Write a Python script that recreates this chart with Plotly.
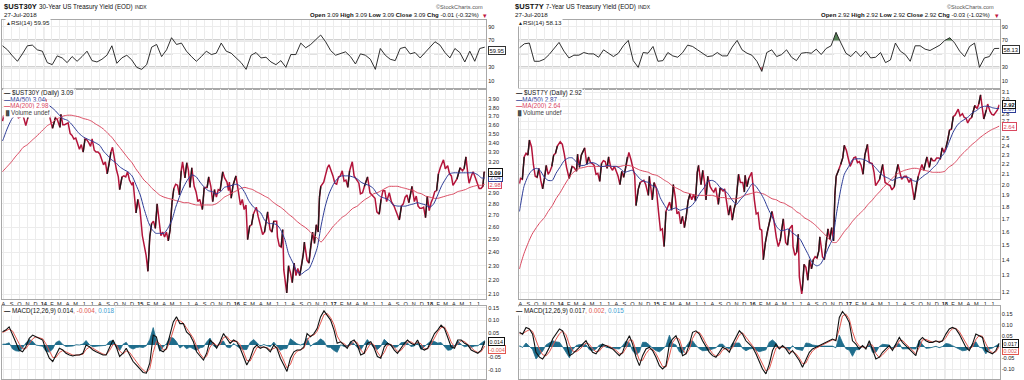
import plotly.graph_objects as go
import pandas as pd
import math

W, H = 1024, 380
FONT = "Liberation Sans, Arial, sans-serif"

# ---------------- price data (weekly-ish closes) ----------------
dates_2013 = ["2013-07-29","2013-08-02","2013-08-09","2013-08-16","2013-08-23","2013-08-30",
              "2013-09-05","2013-09-13","2013-09-20","2013-09-27","2013-10-04","2013-10-11",
              "2013-10-18","2013-10-25","2013-11-01","2013-11-08","2013-11-15","2013-11-22",
              "2013-11-29","2013-12-06","2013-12-13","2013-12-20","2013-12-31"]
dates_2014 = ["2014-01-08","2014-01-15","2014-01-24","2014-02-03","2014-02-14","2014-02-21",
              "2014-03-03","2014-03-07","2014-03-14","2014-03-21","2014-04-03","2014-04-11",
              "2014-04-18","2014-04-25","2014-05-02","2014-05-09","2014-05-16","2014-05-23",
              "2014-05-30","2014-06-06","2014-06-13","2014-06-20","2014-06-27","2014-07-03",
              "2014-07-11","2014-07-18","2014-07-25","2014-08-01","2014-08-08","2014-08-15",
              "2014-08-22","2014-08-29","2014-09-05","2014-09-12","2014-09-18","2014-09-26",
              "2014-10-03","2014-10-10","2014-10-15","2014-10-24","2014-10-31","2014-11-07",
              "2014-11-14","2014-11-21","2014-12-01","2014-12-05","2014-12-12","2014-12-16",
              "2014-12-23","2014-12-31"]
dates_2015 = ["2015-01-09","2015-01-16","2015-01-23","2015-01-30","2015-02-06","2015-02-13",
              "2015-02-20","2015-02-27","2015-03-06","2015-03-13","2015-03-20","2015-03-27",
              "2015-04-03","2015-04-10","2015-04-17","2015-04-24","2015-05-01","2015-05-08",
              "2015-05-15","2015-05-22","2015-05-29","2015-06-05","2015-06-10","2015-06-19",
              "2015-06-26","2015-07-02","2015-07-08","2015-07-15","2015-07-24","2015-07-31",
              "2015-08-07","2015-08-14","2015-08-24","2015-08-31","2015-09-11","2015-09-17",
              "2015-09-25","2015-10-02","2015-10-09","2015-10-16","2015-10-23","2015-10-30",
              "2015-11-09","2015-11-16","2015-11-25","2015-12-01","2015-12-04","2015-12-11",
              "2015-12-18","2015-12-29"]
dates_2016 = ["2016-01-08","2016-01-15","2016-01-22","2016-01-29","2016-02-05","2016-02-11",
              "2016-02-19","2016-02-26","2016-03-04","2016-03-15","2016-03-22","2016-04-01",
              "2016-04-08","2016-04-15","2016-04-27","2016-05-06","2016-05-13","2016-05-20",
              "2016-05-31","2016-06-03","2016-06-10","2016-06-17","2016-06-23","2016-06-27",
              "2016-07-06","2016-07-08","2016-07-15","2016-07-22","2016-07-29","2016-08-05",
              "2016-08-12","2016-08-19","2016-08-26","2016-09-02","2016-09-09","2016-09-13",
              "2016-09-23","2016-09-30","2016-10-07","2016-10-14","2016-10-21","2016-10-28",
              "2016-11-04","2016-11-09","2016-11-14","2016-11-25","2016-12-01","2016-12-09",
              "2016-12-15","2016-12-23","2016-12-30"]
dates_2017 = ["2017-01-06","2017-01-13","2017-01-20","2017-01-27","2017-02-03","2017-02-10",
              "2017-02-17","2017-02-24","2017-03-03","2017-03-13","2017-03-20","2017-03-31",
              "2017-04-07","2017-04-13","2017-04-21","2017-04-28","2017-05-10","2017-05-19",
              "2017-05-31","2017-06-07","2017-06-14","2017-06-23","2017-06-30","2017-07-07",
              "2017-07-14","2017-07-21","2017-07-31","2017-08-08","2017-08-18","2017-08-25",
              "2017-09-07","2017-09-15","2017-09-22","2017-09-29","2017-10-06","2017-10-13",
              "2017-10-25","2017-11-03","2017-11-10","2017-11-17","2017-11-24","2017-12-01",
              "2017-12-08","2017-12-15","2017-12-22","2017-12-29"]
dates_2018 = ["2018-01-05","2018-01-12","2018-01-19","2018-01-26","2018-02-02","2018-02-09",
              "2018-02-21","2018-02-28","2018-03-09","2018-03-16","2018-03-23","2018-03-29",
              "2018-04-06","2018-04-13","2018-04-25","2018-05-04","2018-05-10","2018-05-17",
              "2018-05-25","2018-05-29","2018-06-08","2018-06-13","2018-06-22","2018-06-29",
              "2018-07-06","2018-07-13","2018-07-20","2018-07-25","2018-07-27"]
price_dates = dates_2013 + dates_2014 + dates_2015 + dates_2016 + dates_2017 + dates_2018

ust30_close = [
    # 2013
    3.64,3.70,3.70,3.82,3.79,3.70,3.88,3.84,3.72,3.68,3.69,3.74,3.67,3.59,3.67,3.81,3.79,3.78,3.82,3.89,3.86,3.87,3.94,
    # 2014
    3.90,3.80,3.68,3.56,3.68,3.66,3.57,3.72,3.60,3.60,3.62,3.50,3.48,3.44,3.45,3.40,3.33,3.38,3.30,3.44,
    3.43,3.40,3.36,3.44,3.32,3.30,3.30,3.28,3.21,3.17,3.20,3.08,3.18,3.30,3.35,3.20,3.12,3.05,2.93,3.05,
    3.06,3.05,3.10,3.02,2.97,3.00,2.80,2.72,2.84,2.75,
    # 2015
    2.53,2.44,2.38,2.26,2.52,2.63,2.65,2.59,2.80,2.66,2.53,2.56,2.52,2.56,2.49,2.58,2.81,2.94,2.98,2.97,
    2.88,3.11,3.20,3.04,3.19,3.12,2.95,3.14,2.96,2.91,2.82,2.84,2.75,2.95,2.95,3.05,2.96,2.82,2.93,2.86,
    2.93,2.92,3.10,3.04,3.00,2.92,3.00,2.85,2.97,3.06,
    # 2016
    2.91,2.79,2.84,2.75,2.79,2.50,2.61,2.62,2.71,2.77,2.69,2.61,2.54,2.56,2.73,2.58,2.56,2.65,2.65,2.52,
    2.45,2.44,2.58,2.27,2.15,2.11,2.30,2.25,2.18,2.32,2.23,2.28,2.23,2.30,2.39,2.48,2.34,2.32,2.45,2.56,
    2.47,2.62,2.56,2.86,2.96,3.00,3.06,3.14,3.17,3.12,3.06,
    # 2017
    2.99,2.98,3.05,3.06,3.11,3.01,3.02,2.95,3.11,3.20,3.06,3.02,2.99,2.89,2.90,2.96,3.05,2.90,2.87,2.85,
    2.73,2.71,2.84,2.92,2.92,2.82,2.90,2.82,2.78,2.73,2.66,2.78,2.80,2.86,2.88,2.81,2.96,2.82,2.87,2.78,
    2.76,2.76,2.77,2.68,2.87,2.74,
    # 2018
    2.81,2.85,2.91,2.92,3.08,3.14,3.22,3.13,3.16,3.08,3.06,2.97,3.00,3.03,3.14,3.11,3.13,3.25,3.06,2.99,
    3.07,3.10,3.04,2.99,2.94,2.94,2.96,3.10,3.09]

ust7_close = [
    # 2013
    2.01,2.06,2.05,2.28,2.32,2.30,2.47,2.39,2.20,2.08,2.07,2.16,2.04,1.96,2.06,2.19,2.10,2.13,2.18,2.30,2.32,2.40,2.45,
    # 2014
    2.42,2.32,2.17,2.06,2.18,2.17,2.13,2.31,2.17,2.30,2.38,2.20,2.28,2.22,2.21,2.19,2.10,2.11,2.03,2.21,
    2.24,2.23,2.16,2.28,2.17,2.14,2.18,2.13,2.08,2.00,2.13,2.07,2.16,2.28,2.33,2.25,2.16,2.09,1.81,1.96,
    2.02,2.03,2.04,2.00,1.90,2.08,1.90,1.86,2.02,1.97,
    # 2015
    1.75,1.61,1.62,1.49,1.76,1.81,1.84,1.77,2.00,1.89,1.74,1.76,1.66,1.72,1.63,1.72,1.85,1.91,1.86,1.91,
    1.85,2.12,2.19,2.00,2.14,2.03,1.86,2.08,1.98,1.95,1.93,1.97,1.82,1.97,1.94,1.96,1.84,1.73,1.81,1.69,
    1.78,1.84,2.10,2.02,2.02,1.93,2.09,1.98,2.06,2.12,
    # 2016
    1.86,1.74,1.75,1.62,1.61,1.40,1.52,1.60,1.66,1.76,1.69,1.55,1.49,1.53,1.70,1.52,1.50,1.62,1.65,1.49,
    1.43,1.45,1.58,1.29,1.19,1.21,1.37,1.35,1.27,1.40,1.34,1.40,1.42,1.41,1.46,1.56,1.42,1.40,1.52,1.62,
    1.54,1.63,1.53,1.90,2.08,2.15,2.20,2.27,2.41,2.35,2.25,
    # 2017
    2.18,2.22,2.27,2.28,2.22,2.23,2.19,2.10,2.30,2.42,2.22,2.21,2.12,1.99,2.03,2.05,2.20,2.02,2.00,1.99,
    1.95,1.98,2.11,2.20,2.12,2.05,2.08,2.08,2.02,2.06,1.86,2.00,2.08,2.14,2.20,2.14,2.28,2.17,2.27,2.24,
    2.24,2.27,2.27,2.26,2.38,2.33,
    # 2018
    2.38,2.47,2.59,2.60,2.76,2.78,2.86,2.77,2.80,2.75,2.74,2.68,2.73,2.75,2.91,2.87,2.93,3.06,2.87,2.73,
    2.85,2.93,2.83,2.79,2.78,2.82,2.85,2.90,2.92]

# ---------------- moving averages (semi-monthly readings) ----------------
ma_dates = ["2013-07-29"]
for _y in range(2013, 2019):
    for _m in range(1, 13):
        if (_y == 2013 and _m < 8) or (_y == 2018 and _m > 7):
            continue
        ma_dates += [f"{_y}-{_m:02d}-01", f"{_y}-{_m:02d}-15"]
ma_dates.append("2018-07-27")

ust30_ma50 = [
    3.42,3.44,3.55,3.66,3.71,3.74,3.75,3.72,3.71,3.75,3.80,
    3.84,3.84,3.80,3.76,3.71,3.67,3.65,3.61,3.55,3.50,3.46,3.44,3.42,3.40,3.37,3.31,3.26,3.22,3.19,3.15,3.12,3.10,3.06,2.98,
    2.88,2.76,2.64,2.58,2.55,2.55,2.55,2.59,2.66,2.77,2.88,2.96,3.03,3.07,3.05,3.00,2.95,2.92,2.91,2.89,2.91,2.95,2.96,2.97,
    2.98,2.96,2.90,2.83,2.78,2.75,2.72,2.66,2.63,2.63,2.62,2.58,2.50,2.39,2.32,2.26,2.24,2.26,2.28,2.34,2.44,2.61,2.78,2.89,
    2.98,3.03,3.06,3.06,3.06,3.05,3.03,3.00,2.98,2.97,2.94,2.89,2.86,2.85,2.83,2.79,2.78,2.78,2.78,2.79,2.80,2.81,2.80,2.79,
    2.77,2.80,2.89,2.97,3.03,3.08,3.09,3.09,3.09,3.09,3.09,3.09,3.07,3.04,3.04]
ust30_ma200 = [
    3.10,3.11,3.15,3.20,3.25,3.30,3.35,3.38,3.42,3.46,3.50,
    3.55,3.59,3.62,3.66,3.68,3.70,3.71,3.71,3.70,3.69,3.67,3.66,3.64,3.61,3.58,3.55,3.50,3.46,3.40,3.35,3.29,3.24,3.19,3.13,
    3.07,3.02,2.98,2.94,2.91,2.88,2.86,2.85,2.84,2.83,2.82,2.81,2.81,2.80,2.79,2.79,2.79,2.79,2.79,2.80,2.83,2.86,2.88,2.90,
    2.92,2.94,2.95,2.94,2.93,2.91,2.89,2.87,2.85,2.82,2.79,2.77,2.74,2.71,2.68,2.65,2.62,2.60,2.57,2.54,2.51,2.48,2.52,2.56,
    2.61,2.64,2.68,2.70,2.73,2.76,2.78,2.81,2.84,2.86,2.89,2.90,2.92,2.94,2.96,2.96,2.96,2.95,2.94,2.93,2.92,2.90,2.89,2.87,
    2.86,2.85,2.85,2.86,2.87,2.88,2.89,2.91,2.92,2.93,2.95,2.96,2.97,2.97,2.98]
ust7_ma50 = [
    1.76,1.80,1.98,2.09,2.14,2.16,2.14,2.07,2.04,2.04,2.11,
    2.18,2.24,2.27,2.27,2.23,2.19,2.19,2.21,2.22,2.21,2.18,2.18,2.19,2.18,2.18,2.16,2.12,2.13,2.14,2.10,2.05,2.03,2.02,1.99,
    1.97,1.88,1.81,1.77,1.78,1.79,1.77,1.78,1.79,1.81,1.86,1.92,1.97,2.03,2.04,2.02,1.97,1.95,1.91,1.86,1.82,1.86,1.90,1.95,
    2.01,1.98,1.92,1.86,1.78,1.72,1.64,1.61,1.61,1.62,1.59,1.57,1.54,1.49,1.43,1.38,1.36,1.37,1.42,1.48,1.55,1.74,1.95,2.10,
    2.18,2.25,2.26,2.26,2.25,2.23,2.20,2.16,2.11,2.08,2.06,2.04,2.06,2.07,2.07,2.07,2.04,2.03,2.06,2.09,2.12,2.16,2.20,2.27,
    2.33,2.43,2.56,2.64,2.69,2.72,2.76,2.81,2.84,2.88,2.90,2.90,2.88,2.87,2.87]
ust7_ma200 = [
    1.34,1.36,1.44,1.52,1.58,1.63,1.67,1.71,1.76,1.81,1.87,
    1.93,1.99,2.06,2.11,2.14,2.16,2.17,2.18,2.18,2.18,2.18,2.18,2.18,2.18,2.18,2.18,2.19,2.19,2.18,2.16,2.14,2.13,2.12,2.10,
    2.09,2.07,2.04,2.02,1.99,1.97,1.95,1.93,1.92,1.91,1.90,1.90,1.90,1.90,1.90,1.89,1.88,1.88,1.87,1.87,1.87,1.88,1.90,1.91,
    1.92,1.93,1.92,1.91,1.89,1.87,1.86,1.84,1.83,1.81,1.79,1.76,1.74,1.71,1.69,1.67,1.64,1.61,1.58,1.55,1.52,1.52,1.56,1.60,
    1.64,1.68,1.72,1.75,1.78,1.82,1.86,1.90,1.94,1.98,2.02,2.06,2.10,2.12,2.14,2.15,2.16,2.16,2.15,2.14,2.13,2.12,2.12,2.12,
    2.13,2.17,2.20,2.24,2.29,2.33,2.38,2.42,2.46,2.50,2.54,2.57,2.60,2.62,2.64]

# ---------------- RSI(14) readings ----------------
ust30_rsi = [62,56,47,39,50,62,63,56,54,37, 34,47,44,37,46,39,46,54,40,38,
             42,48,62,36,44,48,41,30,27,34, 60,64,46,56,74,64,66,54,46,39,
             46,54,49,51,66,54,51,44,37,27, 48,52,44,45,38,34,40,30,49,49,
             66,59,64,71,78,68,55,48,50,53, 46,35,50,48,42,27,58,48,42,40,
             58,60,50,52,44,52,60,68,63,52, 44,58,52,38,54,39,58,59.95]
ust7_rsi = [59,65,66,39,39,42,49,58,67,54, 44,48,48,52,50,50,45,56,51,46,
            51,62,70,40,30,52,51,61,39,40, 52,47,45,52,63,61,56,51,46,47,
            52,47,47,60,70,56,51,48,39,24, 52,56,46,49,56,45,40,51,52,51,
            57,49,58,62,82,66,51,46,54,46, 54,44,45,52,37,41,66,54,49,39,
            62,62,57,55,59,63,70,74,66,54, 46,61,66,30,44,46,58,58.13]

# ---------------- MACD(12,26,9) readings ----------------
ust30_macd = [0.053,0.060,0.073,0.040,0.007,-0.020,-0.027,-0.007,0.027,0.040,
              0.033,0.027,0.020,-0.020,-0.053,-0.066,-0.040,-0.013,-0.020,-0.033,
              -0.040,-0.044,-0.040,-0.040,-0.033,0.000,-0.007,-0.020,-0.027,-0.033,
              -0.040,-0.040,-0.007,0.020,-0.007,-0.046,-0.033,-0.013,-0.040,-0.066,
              -0.080,-0.093,-0.110,-0.113,-0.073,0.040,0.033,-0.020,-0.027,-0.013,
              0.046,0.093,0.113,0.086,0.086,0.053,0.040,0.013,-0.027,-0.046,
              -0.060,-0.033,0.020,0.007,-0.013,0.013,0.046,0.027,0.007,0.020,
              0.013,-0.013,-0.046,-0.080,-0.053,-0.013,0.000,-0.013,-0.007,-0.013,
              -0.027,0.000,-0.013,-0.053,-0.080,-0.106,-0.053,-0.027,-0.020,-0.020,
              -0.007,0.046,0.033,0.046,0.066,0.113,0.137,0.119,0.100,0.060,
              0.007,0.013,0.000,-0.013,0.013,0.020,0.000,-0.040,-0.033,0.007,
              0.013,-0.013,-0.046,-0.053,-0.007,0.007,0.000,-0.020,-0.033,-0.013,
              0.007,0.020,0.007,0.000,0.020,-0.013,-0.020,-0.013,0.020,0.046,
              0.060,0.080,0.066,0.027,-0.007,-0.013,0.020,0.020,0.007,0.000,
              -0.020,-0.027,-0.033,-0.020,0.014]
ust30_signal = [0.050,0.056,0.064,0.056,0.030,0.005,-0.015,-0.015,0.005,0.025,
                0.033,0.030,0.025,0.005,-0.025,-0.050,-0.050,-0.030,-0.022,-0.027,
                -0.035,-0.040,-0.041,-0.040,-0.037,-0.018,-0.008,-0.013,-0.022,-0.029,
                -0.036,-0.039,-0.022,0.002,0.002,-0.024,-0.036,-0.024,-0.030,-0.050,
                -0.070,-0.085,-0.100,-0.110,-0.095,-0.030,0.015,0.005,-0.020,-0.018,
                0.015,0.065,0.100,0.098,0.088,0.068,0.048,0.027,-0.005,-0.035,
                -0.052,-0.045,-0.008,0.010,-0.002,0.002,0.030,0.035,0.018,0.014,
                0.016,0.001,-0.028,-0.062,-0.064,-0.035,-0.010,-0.008,-0.009,-0.010,
                -0.020,-0.012,-0.008,-0.032,-0.065,-0.092,-0.078,-0.042,-0.025,-0.020,
                -0.013,0.018,0.038,0.040,0.055,0.088,0.122,0.127,0.110,0.082,
                0.036,0.012,0.006,-0.006,0.000,0.015,0.010,-0.020,-0.035,-0.015,
                0.008,0.000,-0.028,-0.048,-0.030,-0.002,0.003,-0.010,-0.026,-0.022,
                -0.004,0.012,0.013,0.004,0.010,0.005,-0.015,-0.016,0.003,0.032,
                0.052,0.070,0.072,0.048,0.012,-0.008,0.003,0.018,0.014,0.004,
                -0.010,-0.023,-0.030,-0.026,-0.004]
ust7_macd = [0.066,0.058,0.088,0.081,0.058,-0.024,-0.046,-0.054,-0.031,-0.001,
             0.036,0.058,0.081,0.073,0.028,-0.039,-0.031,-0.016,-0.001,0.013,
             0.028,-0.001,-0.024,-0.031,-0.009,0.013,0.006,-0.001,-0.009,-0.024,
             -0.039,-0.024,0.021,0.051,0.013,-0.046,-0.084,-0.039,-0.009,-0.001,
             -0.016,-0.046,-0.084,-0.099,-0.084,0.013,0.036,0.051,0.013,-0.039,
             -0.031,0.013,0.066,0.073,0.058,0.028,-0.001,-0.024,-0.039,-0.046,
             -0.024,-0.001,-0.009,-0.024,0.013,0.043,0.073,0.058,0.028,0.013,
             -0.001,-0.031,-0.069,-0.099,-0.121,-0.076,-0.016,0.013,-0.009,0.006,
             -0.009,-0.031,-0.016,-0.039,-0.061,-0.091,-0.054,-0.024,-0.009,-0.001,
             0.006,0.013,0.021,0.028,0.036,0.028,0.133,0.160,0.140,0.110,
             0.028,0.013,-0.009,0.006,-0.009,0.028,-0.016,-0.054,-0.046,-0.024,
             -0.009,0.006,-0.016,0.013,0.043,0.021,0.006,-0.009,-0.024,-0.039,
             0.028,0.043,0.028,0.021,0.021,0.028,0.021,0.028,0.058,0.081,
             0.088,0.081,0.058,0.028,-0.001,-0.016,0.013,0.058,0.051,0.043,
             -0.016,-0.024,-0.031,-0.016,0.017]
ust7_signal = [0.060,0.060,0.070,0.078,0.070,0.030,-0.010,-0.035,-0.040,-0.022,
               0.008,0.035,0.060,0.072,0.055,0.010,-0.018,-0.022,-0.012,0.004,
               0.018,0.012,-0.008,-0.022,-0.018,0.000,0.007,0.003,-0.004,-0.015,
               -0.030,-0.030,-0.005,0.032,0.030,-0.012,-0.060,-0.060,-0.030,-0.010,
               -0.010,-0.030,-0.062,-0.088,-0.090,-0.040,0.020,0.042,0.035,-0.010,
               -0.032,-0.010,0.038,0.066,0.066,0.045,0.015,-0.010,-0.030,-0.042,
               -0.036,-0.014,-0.006,-0.016,-0.004,0.026,0.055,0.064,0.045,0.022,
               0.006,-0.016,-0.048,-0.082,-0.108,-0.098,-0.048,-0.005,0.000,0.000,
               -0.002,-0.018,-0.022,-0.030,-0.050,-0.075,-0.072,-0.040,-0.018,-0.006,
               0.002,0.009,0.016,0.024,0.032,0.032,0.080,0.140,0.148,0.125,
               0.070,0.025,0.003,0.000,-0.002,0.012,0.008,-0.030,-0.048,-0.036,
               -0.018,-0.003,-0.008,0.000,0.028,0.030,0.014,-0.002,-0.016,-0.030,
               -0.002,0.032,0.034,0.026,0.022,0.025,0.024,0.026,0.042,0.068,
               0.082,0.084,0.070,0.045,0.014,-0.008,0.000,0.034,0.052,0.048,
               0.015,-0.015,-0.026,-0.022,0.002]

assert len(ust30_close) == len(price_dates) == len(ust7_close)
assert len(ma_dates) == len(ust30_ma50) == len(ust30_ma200) == len(ust7_ma50) == len(ust7_ma200)
assert len(ust30_macd) == len(ust30_signal) == len(ust7_macd) == len(ust7_signal)

rsi_dates = list(pd.date_range("2013-07-29", "2018-07-27", periods=len(ust30_rsi)))
macd_dates = [d.strftime("%Y-%m-%d") for d in pd.date_range("2013-07-29", "2018-07-27", periods=len(ust30_macd))]

month_starts = pd.date_range("2013-08-01", "2018-07-01", freq="MS")
month_vals = [d.strftime("%Y-%m-%d") for d in month_starts]
letters = "JFMAMJJASOND"
month_text = [f"<b>{d.year % 100:02d}</b>" if d.month == 1 else letters[d.month - 1] for d in month_starts]
year_vals = [d.strftime("%Y-%m-%d") for d in month_starts if d.month == 1]

# ---------------- styling ----------------
PRICE_RED = "#b3143a"
MA50_BLUE = "#2d3c96"
MA200_RED = "#d9485f"
SIG_RED = "#e2574f"
HIST_BLUE = "#1f6d8c"
GRID = "#ececec"
YEARGRID = "#c4c4c4"
BORDER = "#a8a8a8"
TXT = "#222222"

Y_RSI = [1 - 87.7 / H, 1 - 18.3 / H]
Y_PRICE = [1 - 298.3 / H, 1 - 87.7 / H]
Y_MACD = [1 - 378.7 / H, 1 - 306.0 / H]

fig = go.Figure()
layout = dict(width=W, height=H, margin=dict(l=0, r=0, t=0, b=0), paper_bgcolor="white",
              plot_bgcolor="white", showlegend=False, bargap=0, font=dict(family=FONT, size=6, color=TXT))
shapes, annotations = [], []


def ann(xpx, ypx, text, size=6.3, color=TXT, xanchor="left", bg=None, border=None, xref="paper", yref="paper", y=None):
    x = xpx / W if xref == "paper" else xpx
    yy = (1 - ypx / H) if y is None else y
    d = dict(x=x, y=yy, xref=xref, yref=yref, text=text, showarrow=False, xanchor=xanchor, yanchor="middle",
             font=dict(size=size, color=color, family=FONT))
    if bg:
        d["bgcolor"] = bg
        d["borderpad"] = 0
    if border:
        d["bordercolor"] = border
        d["borderwidth"] = 1
        d["borderpad"] = 0.5
    annotations.append(d)


def zone_polygons(dates, vals, thr, above):
    """Closed polygons between the RSI line and a threshold, only where it is exceeded."""
    polys = []
    cur = None
    for i in range(len(vals)):
        v = vals[i]
        out = v > thr if above else v < thr
        if out and cur is None:
            if i > 0:
                v0, t0 = vals[i - 1], dates[i - 1]
                f = (thr - v0) / (v - v0)
                cur = [(t0 + (dates[i] - t0) * f, thr)]
            else:
                cur = [(dates[i], thr)]
            cur.append((dates[i], v))
        elif out:
            cur.append((dates[i], v))
        elif cur is not None:
            v0, t0 = vals[i - 1], dates[i - 1]
            f = (thr - v0) / (v - v0)
            cur.append((t0 + (dates[i] - t0) * f, thr))
            polys.append(cur)
            cur = None
    xs, ys = [], []
    for p in polys:
        xs += [q[0] for q in p] + [p[0][0], None]
        ys += [q[1] for q in p] + [p[0][1], None]
    return xs, ys


def build(sfx, xdom, xrange, close, ma50, ma200, rsi, macd, signal,
          y_rng, y_ticks, y_hide, y_fmt, macd_rng, info):
    xa, xb, xc = sfx
    ya, yb, yc = ["y" + s[1:] for s in sfx]
    tickfont = dict(size=5.6, color=TXT, family=FONT)
    for xn, yn, labels in [(xa, ya, False), (xb, yb, True), (xc, yc, False)]:
        layout["xaxis" + xn[1:]] = dict(type="date", domain=xdom, range=xrange, anchor=yn, tickmode="array",
                                        tickvals=month_vals, ticktext=month_text, showticklabels=labels, ticks="",
                                        showgrid=True, gridcolor=GRID, gridwidth=1, showline=True, linecolor=BORDER,
                                        linewidth=1, mirror=True, zeroline=False, tickfont=tickfont, fixedrange=True)
        for yv in year_vals:
            shapes.append(dict(type="line", xref=xn, yref=yn + " domain", x0=yv, x1=yv, y0=0, y1=1,
                               line=dict(color=YEARGRID, width=1), layer="below"))
    layout["yaxis" + ya[1:]] = dict(domain=Y_RSI, anchor=xa, range=[-2.5, 100], side="right", tickmode="array",
                                    tickvals=[10, 30, 50, 70, 90], ticktext=["10", "30", "", "70", "90"],
                                    ticks="", showgrid=True, gridcolor=GRID, showline=True, linecolor=BORDER,
                                    mirror=True, zeroline=False, tickfont=tickfont, fixedrange=True)
    layout["yaxis" + yb[1:]] = dict(type="log", domain=Y_PRICE, anchor=xb, range=y_rng, side="right",
                                    tickmode="array", tickvals=y_ticks,
                                    ticktext=["" if v in y_hide else y_fmt % v for v in y_ticks],
                                    ticks="", showgrid=True, gridcolor=GRID, showline=True, linecolor=BORDER,
                                    mirror=True, zeroline=False, tickfont=tickfont, fixedrange=True)
    mt = [-0.10, -0.05, 0.05, 0.10, 0.15]
    layout["yaxis" + yc[1:]] = dict(domain=Y_MACD, anchor=xc, range=macd_rng, side="right", tickmode="array",
                                    tickvals=mt, ticktext=["%.2f" % v for v in mt], ticks="", showgrid=True,
                                    gridcolor=GRID, showline=True, linecolor=BORDER, mirror=True,
                                    zeroline=False, tickfont=tickfont, fixedrange=True)

    for lvl, w, dash, col in [(70, 1.6, "solid", "#a3a3a3"), (30, 1.6, "solid", "#a3a3a3"), (50, 1, "dash", "#b0b0b0")]:
        shapes.append(dict(type="line", xref=xa + " domain", yref=ya, x0=0, x1=1, y0=lvl, y1=lvl,
                           line=dict(color=col, width=w, dash=dash), layer="below"))

    if info["fill"]:
        px_, py_ = zone_polygons(rsi_dates, rsi, 70, True)
        fig.add_trace(go.Scatter(x=px_, y=py_, xaxis=xa, yaxis=ya, mode="lines", fill="toself",
                                 fillcolor="rgba(70,115,70,0.9)", line=dict(width=0), hoverinfo="skip"))
        px_, py_ = zone_polygons(rsi_dates, rsi, 30, False)
        fig.add_trace(go.Scatter(x=px_, y=py_, xaxis=xa, yaxis=ya, mode="lines", fill="toself",
                                 fillcolor="rgba(190,60,80,0.8)", line=dict(width=0), hoverinfo="skip"))
    fig.add_trace(go.Scatter(x=rsi_dates, y=rsi, xaxis=xa, yaxis=ya, mode="lines",
                             line=dict(color="#1a1a1a", width=0.9)))

    fig.add_trace(go.Scatter(x=price_dates, y=close, xaxis=xb, yaxis=yb, mode="lines",
                             line=dict(color=PRICE_RED, width=1.5)))
    ux, uy = [], []
    for i in range(1, len(close)):
        if close[i] > close[i - 1] * 1.03:
            ux += [price_dates[i - 1], price_dates[i], None]
            uy += [close[i - 1], close[i], None]
    fig.add_trace(go.Scatter(x=ux, y=uy, xaxis=xb, yaxis=yb, mode="lines", connectgaps=False,
                             line=dict(color="#1a1a1a", width=1.3)))
    fig.add_trace(go.Scatter(x=ma_dates, y=ma200, xaxis=xb, yaxis=yb, mode="lines",
                             line=dict(color=MA200_RED, width=1, shape="spline", smoothing=0.6)))
    fig.add_trace(go.Scatter(x=ma_dates, y=ma50, xaxis=xb, yaxis=yb, mode="lines",
                             line=dict(color=MA50_BLUE, width=1, shape="spline", smoothing=0.6)))

    hist = [m - s for m, s in zip(macd, signal)]
    fig.add_trace(go.Scatter(x=macd_dates, y=hist, xaxis=xc, yaxis=yc, mode="lines", fill="tozeroy",
                             fillcolor=HIST_BLUE, line=dict(color=HIST_BLUE, width=0.8)))
    fig.add_trace(go.Scatter(x=macd_dates, y=signal, xaxis=xc, yaxis=yc, mode="lines",
                             line=dict(color=SIG_RED, width=1)))
    fig.add_trace(go.Scatter(x=macd_dates, y=macd, xaxis=xc, yaxis=yc, mode="lines",
                             line=dict(color="#111111", width=1.1)))

    x0 = info["x0"]
    xr = info["xright"]
    lab = info["lab"]
    ann(x0, 4.8, f"<b>{info['sym']}</b> <span style='font-size:6.3px'>{info['name']}</span>"
        f" <span style='font-size:5px'>INDX</span>", size=7.6, color="#111")
    ann(x0, 12.8, "27-Jul-2018", size=6.2, color="#111")
    ann(xr, 5.2, "\u00a9StockCharts.com", size=5.6, color="#555", xanchor="right")
    ann(xr - 4, 13.3, info["ohlc"], size=6.0, color="#111", xanchor="right")
    ann(xr - 3.5, 13.6, "\u25be", size=7, color="#c0143c")
    ann(x0 + 3.5, 20.8, f"<span style='font-size:5px'>\u25b2</span>RSI(14) {rsi[-1]:.2f}", size=6.2, color="#222",
        bg="white")
    ann(x0 + 1.5, 91.6, f"<b>\u2014</b> {info['sym']} (Daily) {close[-1]:.2f}", size=6.3, color="#111", bg="white")
    ann(x0 + 1.5, 98.2, f"<b>\u2014</b>MA(50) {ma50[-1]:.2f}", size=6.3, color=MA50_BLUE, bg="white")
    ann(x0 + 1.5, 104.8, f"<b>\u2014</b>MA(200) {ma200[-1]:.2f}", size=6.3, color=MA200_RED, bg="white")
    ann(x0 + 1.5, 111.4, "<span style='font-size:5px'>\u2590\u258c</span>Volume undef", size=6.3, color="#444", bg="white")
    h_last = macd[-1] - signal[-1]
    ann(x0 + 1.5, 310.2, f"<b>\u2014</b> MACD(12,26,9) {macd[-1]:.3f}<span style='color:{SIG_RED}'>, {signal[-1]:.3f}</span>"
        f"<span style='color:#3b9bd0'>, {h_last:.3f}</span>", size=6.3, color="#111", bg="white")
    ann(lab, 0, f"{ma200[-1]:.2f}", size=5.8, color=MA200_RED, border=MA200_RED, bg="white",
        yref=yb, y=math.log10(ma200[-1]))
    ann(lab, 0, f"{ma50[-1]:.2f}", size=5.8, color=MA50_BLUE, border=MA50_BLUE, bg="white",
        yref=yb, y=math.log10(ma50[-1]))
    ann(lab, 0, f"<b>{close[-1]:.2f}</b>", size=5.8, color="#111", border="#111", bg="white",
        yref=yb, y=math.log10(close[-1]))
    ann(lab, 0, f"{rsi[-1]:.2f}", size=5.8, color="#111", border="#333", bg="white",
        yref=ya, y=info["rsi_box"])
    ann(lab, 0, f"{signal[-1]:.3f}", size=5.4, color=SIG_RED, border=SIG_RED, bg="white",
        yref=yc, y=info["sig_box"])
    ann(lab, 0, f"{macd[-1]:.3f}", size=5.4, color="#111", border="#111", bg="white",
        yref=yc, y=macd[-1])


build(["x", "x2", "x3"], [1 / W, 485.5 / W], ["2013-07-27", "2018-08-01"],
      ust30_close, ust30_ma50, ust30_ma200, ust30_rsi, ust30_macd, ust30_signal,
      [0.3163, 0.6052], [round(2.1 + 0.1 * i, 2) for i in range(19)], (3.0, 3.1), "%.2f", [-0.135, 0.155],
      dict(x0=1, xright=484, lab=487.2, sym="$UST30Y", name="30-Year US Treasury Yield (EOD)",
           ohlc="<b>Open</b> 3.09 <b>High</b> 3.09 <b>Low</b> 3.09 <b>Close</b> 3.09 <b>Chg</b> -0.01 (-0.32%)",
           rsi_box=55, fill=False, sig_box=-0.017))
build(["x4", "x5", "x6"], [518.7 / W, 999.5 / W], ["2013-07-28", "2018-07-28"],
      ust7_close, ust7_ma50, ust7_ma200, ust7_rsi, ust7_macd, ust7_signal,
      [0.0657, 0.4975], [round(1.2 + 0.1 * i, 1) for i in range(20)], (2.9, 2.6), "%.1f", [-0.143, 0.183],
      dict(x0=513, xright=996, lab=1001.5, sym="$UST7Y", name="7-Year US Treasury Yield (EOD)",
           ohlc="<b>Open</b> 2.92 <b>High</b> 2.92 <b>Low</b> 2.92 <b>Close</b> 2.92 <b>Chg</b> -0.03 (-1.02%)",
           rsi_box=56.5, fill=True, sig_box=-0.018))

layout["shapes"] = shapes
layout["annotations"] = annotations
fig.update_layout(**layout)
fig.write_html("out.html", config={"displayModeBar": False, "staticPlot": True},
               post_script="document.body.style.margin='0';document.body.style.padding='0';")
